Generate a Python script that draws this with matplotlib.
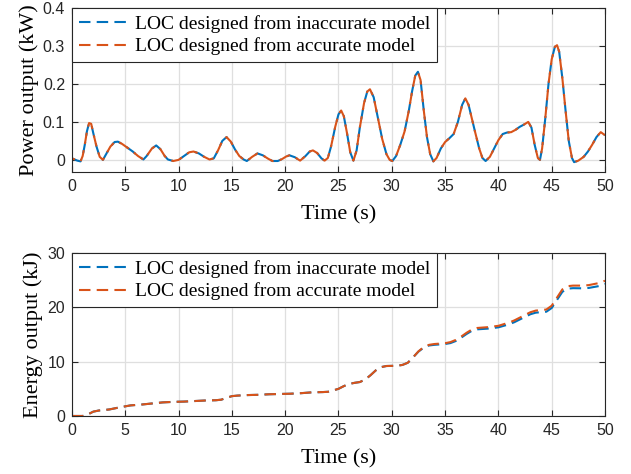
import matplotlib
matplotlib.use('Agg')
import matplotlib.pyplot as plt

# power output (kW), both controllers practically coincide
t_power = [0.0, 0.5, 0.8, 1.0, 1.2, 1.4, 1.6, 1.8, 2.0, 2.3, 2.6, 2.9, 3.2, 3.6,
           4.0, 4.3, 4.7, 5.2, 5.7, 6.2, 6.7, 7.0, 7.5, 7.9, 8.3, 8.7, 9.0, 9.5,
           10.0, 10.5, 11.0, 11.4, 11.9, 12.4, 12.9, 13.3, 13.7, 14.1, 14.5, 14.9,
           15.3, 15.7, 16.1, 16.4, 16.9, 17.4, 17.9, 18.4, 18.8, 19.3, 19.7, 20.1,
           20.4, 20.9, 21.4, 21.9, 22.3, 22.6, 23.0, 23.4, 23.7, 24.0, 24.3, 24.7,
           25.0, 25.25, 25.5, 25.8, 26.1, 26.4, 26.7, 27.0, 27.4, 27.7, 27.95, 28.3,
           28.7, 29.1, 29.5, 29.8, 30.05, 30.4, 30.8, 31.2, 31.6, 31.9, 32.2, 32.45,
           32.7, 33.0, 33.3, 33.6, 33.9, 34.2, 34.6, 35.0, 35.4, 35.8, 36.2, 36.6,
           36.9, 37.2, 37.5, 37.8, 38.2, 38.5, 38.8, 39.2, 39.6, 40.0, 40.4, 40.8,
           41.2, 41.6, 42.0, 42.4, 42.8, 43.1, 43.4, 43.7, 43.9, 44.1, 44.4, 44.7,
           45.0, 45.3, 45.5, 45.7, 46.0, 46.3, 46.6, 46.9, 47.1, 47.5, 48.0, 48.4,
           48.8, 49.2, 49.6, 50.0]
power_acc = [0.004, -0.002, -0.004, 0.01, 0.04, 0.075, 0.097, 0.095, 0.07, 0.035, 0.008, 0.0, 0.015, 0.035,
             0.047, 0.048, 0.042, 0.032, 0.022, 0.01, 0.001, 0.01, 0.03, 0.038, 0.028, 0.01, 0.001, -0.003,
             0.0, 0.01, 0.02, 0.022, 0.017, 0.008, 0.001, 0.004, 0.025, 0.05, 0.06, 0.048,
             0.027, 0.01, 0.001, -0.003, 0.008, 0.017, 0.012, 0.003, -0.003, -0.003, 0.002, 0.009,
             0.012, 0.007, -0.002, 0.01, 0.022, 0.025, 0.018, 0.004, -0.002, 0.005, 0.035, 0.088,
             0.12, 0.13, 0.115, 0.07, 0.02, -0.002, 0.025, 0.085, 0.15, 0.18, 0.186, 0.165,
             0.11, 0.055, 0.015, 0.0, -0.003, 0.01, 0.04, 0.075, 0.13, 0.18, 0.222, 0.232,
             0.21, 0.13, 0.06, 0.015, -0.004, 0.005, 0.03, 0.047, 0.057, 0.068, 0.1, 0.145,
             0.162, 0.145, 0.11, 0.075, 0.03, 0.005, -0.003, 0.008, 0.03, 0.052, 0.068, 0.072,
             0.073, 0.079, 0.087, 0.093, 0.1, 0.085, 0.04, 0.005, 0.0, 0.03, 0.11, 0.2,
             0.265, 0.298, 0.302, 0.285, 0.215, 0.13, 0.05, 0.005, -0.006, -0.002, 0.008, 0.022,
             0.04, 0.06, 0.073, 0.065]
power_inacc = list(power_acc)

# energy output (kJ)
t_energy = [0.0, 1.0, 1.5, 2.0, 2.5, 3.5, 4.5, 5.5, 6.5, 7.5, 8.5, 9.5, 10.5, 11.5,
            12.5, 13.5, 14.0, 14.5, 15.0, 15.5, 16.5, 17.5, 18.5, 19.5, 20.5, 21.5,
            22.5, 23.5, 24.0, 24.5, 25.0, 25.5, 26.0, 26.5, 27.0, 27.5, 28.0, 28.5,
            29.0, 29.5, 30.5, 31.0, 31.5, 32.0, 32.5, 33.0, 33.5, 34.0, 35.0, 35.5,
            36.0, 36.5, 37.0, 37.5, 38.0, 39.0, 40.0, 40.5, 41.0, 41.5, 42.0, 42.5,
            43.0, 43.5, 44.5, 45.0, 45.5, 46.0, 46.5, 47.0, 48.0, 48.5, 49.0, 49.5, 50.0]
energy_acc = [0.0, 0.0, 0.3, 0.8, 1.0, 1.2, 1.6, 1.95, 2.1, 2.3, 2.5, 2.6, 2.65, 2.75,
              2.85, 2.9, 3.0, 3.35, 3.65, 3.75, 3.85, 3.9, 4.0, 4.05, 4.1, 4.2,
              4.35, 4.4, 4.45, 4.7, 5.0, 5.5, 5.9, 6.1, 6.25, 6.7, 7.5, 8.4,
              9.0, 9.2, 9.25, 9.4, 9.8, 10.8, 11.9, 12.7, 13.1, 13.25, 13.4, 13.6,
              14.0, 14.6, 15.3, 15.9, 16.2, 16.35, 16.6, 16.9, 17.2, 17.6, 18.1, 18.6,
              19.1, 19.4, 19.6, 20.3, 21.8, 23.3, 23.9, 24.0, 24.0, 24.1, 24.3, 24.5, 24.9]
energy_inacc = [0.0, 0.0, 0.3, 0.8, 1.0, 1.2, 1.6, 1.95, 2.1, 2.3, 2.5, 2.6, 2.65, 2.75,
                2.85, 2.9, 3.0, 3.35, 3.65, 3.75, 3.85, 3.9, 4.0, 4.05, 4.1, 4.2,
                4.35, 4.4, 4.45, 4.7, 5.0, 5.5, 5.9, 6.1, 6.25, 6.7, 7.5, 8.4,
                9.0, 9.2, 9.25, 9.4, 9.8, 10.8, 11.85, 12.6, 12.98, 13.1, 13.25, 13.42,
                13.8, 14.4, 15.08, 15.67, 15.95, 16.08, 16.32, 16.6, 16.88, 17.27, 17.76, 18.25,
                18.73, 19.02, 19.2, 19.88, 21.37, 22.86, 23.44, 23.53, 23.5, 23.58, 23.76, 23.94, 24.32]

labels = ['LOC designed from inaccurate model', 'LOC designed from accurate model']
blue = '#0072BD'
orange = '#D95319'

plt.rcParams['font.family'] = 'Liberation Sans'
plt.rcParams['font.size'] = 11.5
plt.rcParams['axes.linewidth'] = 0.8
plt.rcParams['axes.edgecolor'] = '#262626'
plt.rcParams['xtick.color'] = '#262626'
plt.rcParams['ytick.color'] = '#262626'

fig = plt.figure(figsize=(6.31, 4.74), dpi=100)
ax1 = fig.add_axes([0.1141, 0.6371, 0.8447, 0.3460])
ax2 = fig.add_axes([0.1141, 0.1224, 0.8447, 0.3438])

serif = {'family': 'Liberation Serif', 'size': 16}
dash = (0, (5.5, 3))
dash2 = (4, (5.5, 3))

def style(ax):
    ax.set_xlim(0, 50)
    ax.set_xticks(range(0, 51, 5))
    ax.grid(True, color='#dfdfdf', linewidth=0.9)
    ax.set_axisbelow(True)
    ax.tick_params(direction='in', top=True, right=True, length=4, width=0.8, pad=5)
    ax.set_xlabel('Time (s)', fontdict=serif, labelpad=8)
    leg = ax.legend(loc='upper left', prop={'family': 'Liberation Serif', 'size': 14},
                    fancybox=False, framealpha=1, edgecolor='#262626',
                    borderaxespad=0, handlelength=2.5, handletextpad=0.4,
                    borderpad=0.35, labelspacing=0.25)
    leg.get_frame().set_linewidth(0.8)
    for ln in leg.get_lines():
        ln.set_linestyle(dash)

ax1.plot(t_power, power_inacc, color=blue, lw=1.5, linestyle=dash, label=labels[0])
ax1.plot(t_power, power_acc, color=orange, lw=1.5, linestyle=dash2, label=labels[1])
ax1.set_ylim(-0.032, 0.4)
ax1.set_yticks([0, 0.1, 0.2, 0.3, 0.4])
ax1.set_yticklabels(['0', '0.1', '0.2', '0.3', '0.4'])
ax1.set_ylabel('Power output (kW)', fontdict=serif, labelpad=3)
style(ax1)

ax2.plot(t_energy, energy_inacc, color=blue, lw=1.5, linestyle=dash, label=labels[0])
ax2.plot(t_energy, energy_acc, color=orange, lw=1.5, linestyle=dash, label=labels[1])
ax2.set_ylim(0, 30)
ax2.set_yticks([0, 10, 20, 30])
ax2.set_ylabel('Energy output (kJ)', fontdict=serif, labelpad=3)
style(ax2)

fig.savefig('out.png', dpi=100)
